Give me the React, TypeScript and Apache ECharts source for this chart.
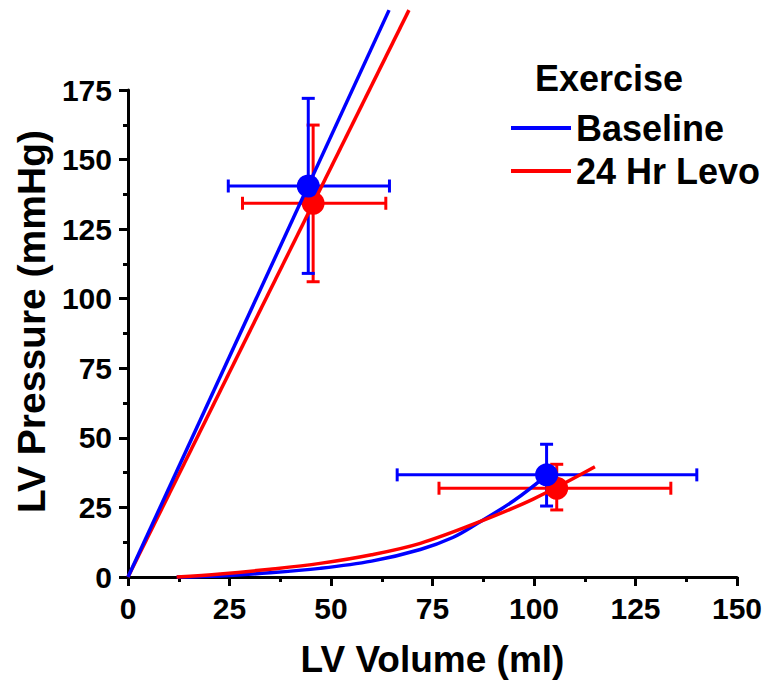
import React, { useEffect, useRef } from "react";
import * as echarts from "echarts";

// ---- data ----
const xTicks = [0, 25, 50, 75, 100, 125, 150];
const yTicks = [0, 25, 50, 75, 100, 125, 150, 175];

// End-systolic pressure-volume relations (straight lines from origin)
const baselineESPVR = [[0, 0], [64.3, 203.7]];
const levoESPVR = [[0, 0], [69.2, 203.7]];

// End-diastolic pressure-volume relations (curves)
const baselineEDPVR = [
  [12, 0], [22.7, 0.4], [35, 1.5], [47.3, 3.1], [60, 5.7], [72, 9.9],
  [80, 14.2], [86, 19.2], [95, 27.4], [103.5, 37],
];
const levoEDPVR = [
  [12, 0], [22.7, 1.1], [35, 2.8], [47.3, 4.9], [60, 8.0], [72, 12.1],
  [86, 19.5], [99.8, 28], [115, 39.6],
];

// Mean points with error ranges
const baselineMeans = [[44.4, 140.5], [103.1, 36.7]];
const baselineXRange = [[24.7, 64.4], [66.3, 140.1]];
const baselineYRange = [[109.1, 172.0], [25.5, 47.7]];

const levoMeans = [[45.6, 134.3], [105.6, 31.9]];
const levoXRange = [[28.2, 63.5], [76.6, 133.7]];
const levoYRange = [[106.1, 162.4], [24.1, 40.5]];

const seriesNames = ["Baseline", "24 Hr Levo"];
const legendTitle = "Exercise";

const BLUE = "#0000ff";
const RED = "#ff0000";
const FONT = "Liberation Sans";

function buildErr(means: number[][], xr: number[][], yr: number[][]) {
  return means.map((m, i) => [m[0], m[1], xr[i][0], xr[i][1], yr[i][0], yr[i][1]]);
}

function errSeries(name: string, color: string, data: number[][]) {
  return {
    type: "custom",
    name,
    data,
    encode: { x: 0, y: 1 },
    clip: false,
    renderItem: (_params: any, api: any) => {
      const x = api.value(0);
      const y = api.value(1);
      const c = api.coord([x, y]);
      const xl = api.coord([api.value(2), y])[0];
      const xh = api.coord([api.value(3), y])[0];
      const yl = api.coord([x, api.value(4)])[1];
      const yh = api.coord([x, api.value(5)])[1];
      const cap = 6.5;
      const style = { stroke: color, lineWidth: 3, fill: "none" };
      return {
        type: "group",
        children: [
          { type: "line", shape: { x1: xl, y1: c[1], x2: xh, y2: c[1] }, style },
          { type: "line", shape: { x1: xl, y1: c[1] - cap, x2: xl, y2: c[1] + cap }, style },
          { type: "line", shape: { x1: xh, y1: c[1] - cap, x2: xh, y2: c[1] + cap }, style },
          { type: "line", shape: { x1: c[0], y1: yl, x2: c[0], y2: yh }, style },
          { type: "line", shape: { x1: c[0] - cap, y1: yl, x2: c[0] + cap, y2: yl }, style },
          { type: "line", shape: { x1: c[0] - cap, y1: yh, x2: c[0] + cap, y2: yh }, style },
        ],
      };
    },
  };
}

export default function App() {
  const ref = useRef<HTMLDivElement>(null);
  useEffect(() => {
    document.body.style.margin = "0";
    if (!ref.current) return;
    const chart = echarts.init(ref.current, null, { renderer: "svg" });
    const axisCommon = {
      type: "value",
      splitLine: { show: false },
      axisLine: { show: true, onZero: false, lineStyle: { color: "#000", width: 3 } },
      axisTick: { show: true, inside: false, length: 9, lineStyle: { color: "#000", width: 3 } },
      minorTick: { show: true, splitNumber: 2, length: 5, lineStyle: { color: "#000", width: 3 } },
    };
    const lineCommon = {
      type: "line",
      showSymbol: false,
      clip: false,
    };
    chart.setOption({
      animation: false,
      backgroundColor: "#fff",
      grid: { left: 128, right: 37, top: 90, bottom: 107 },
      xAxis: {
        ...axisCommon,
        min: xTicks[0],
        max: xTicks[xTicks.length - 1],
        interval: 25,
        name: "LV Volume (ml)",
        nameLocation: "middle",
        nameGap: 64,
        nameTextStyle: { fontFamily: FONT, fontWeight: "bold", fontSize: 37, color: "#000" },
        axisLabel: { fontFamily: FONT, fontWeight: "bold", fontSize: 30, color: "#000", margin: 16 },
      },
      yAxis: {
        ...axisCommon,
        min: yTicks[0],
        max: yTicks[yTicks.length - 1],
        interval: 25,
        name: "LV Pressure (mmHg)",
        nameLocation: "middle",
        nameGap: 72,
        nameTextStyle: {
          fontFamily: FONT, fontWeight: "bold", fontSize: 39, color: "#000",
          padding: [0, 0, 0, 24],
        },
        axisLabel: { fontFamily: FONT, fontWeight: "bold", fontSize: 30, color: "#000", margin: 16 },
      },
      legend: {
        data: seriesNames,
        orient: "vertical",
        left: 511,
        top: 108,
        padding: 0,
        itemGap: 3,
        itemWidth: 60,
        itemHeight: 4,
        icon: "rect",
        textStyle: { fontFamily: FONT, fontWeight: "bold", fontSize: 36, color: "#000", lineHeight: 40 },
      },
      graphic: [
        {
          type: "text",
          left: 535,
          top: 60,
          style: { text: legendTitle, font: `bold 36px "${FONT}"`, fill: "#000" },
        },
      ],
      series: [
        { ...lineCommon, name: seriesNames[1], data: levoESPVR, color: RED, lineStyle: { width: 3.5, color: RED } },
        { ...lineCommon, name: seriesNames[0], data: baselineESPVR, color: BLUE, lineStyle: { width: 3.5, color: BLUE } },
        { ...lineCommon, name: seriesNames[0], data: baselineEDPVR, smooth: 0.35, color: BLUE, lineStyle: { width: 3.5, color: BLUE } },
        { ...lineCommon, name: seriesNames[1], data: levoEDPVR, smooth: 0.35, color: RED, lineStyle: { width: 3.5, color: RED } },
        { ...errSeries(seriesNames[1], RED, buildErr(levoMeans, levoXRange, levoYRange)), color: RED },
        { type: "scatter", name: seriesNames[1], data: levoMeans, symbolSize: 23, color: RED, itemStyle: { color: RED, opacity: 1 } },
        { ...errSeries(seriesNames[0], BLUE, buildErr(baselineMeans, baselineXRange, baselineYRange)), color: BLUE },
        { type: "scatter", name: seriesNames[0], data: baselineMeans, symbolSize: 23, color: BLUE, itemStyle: { color: BLUE, opacity: 1 } },
      ],
    });
    return () => chart.dispose();
  }, []);
  return <div ref={ref} style={{ width: 774, height: 684 }} />;
}
